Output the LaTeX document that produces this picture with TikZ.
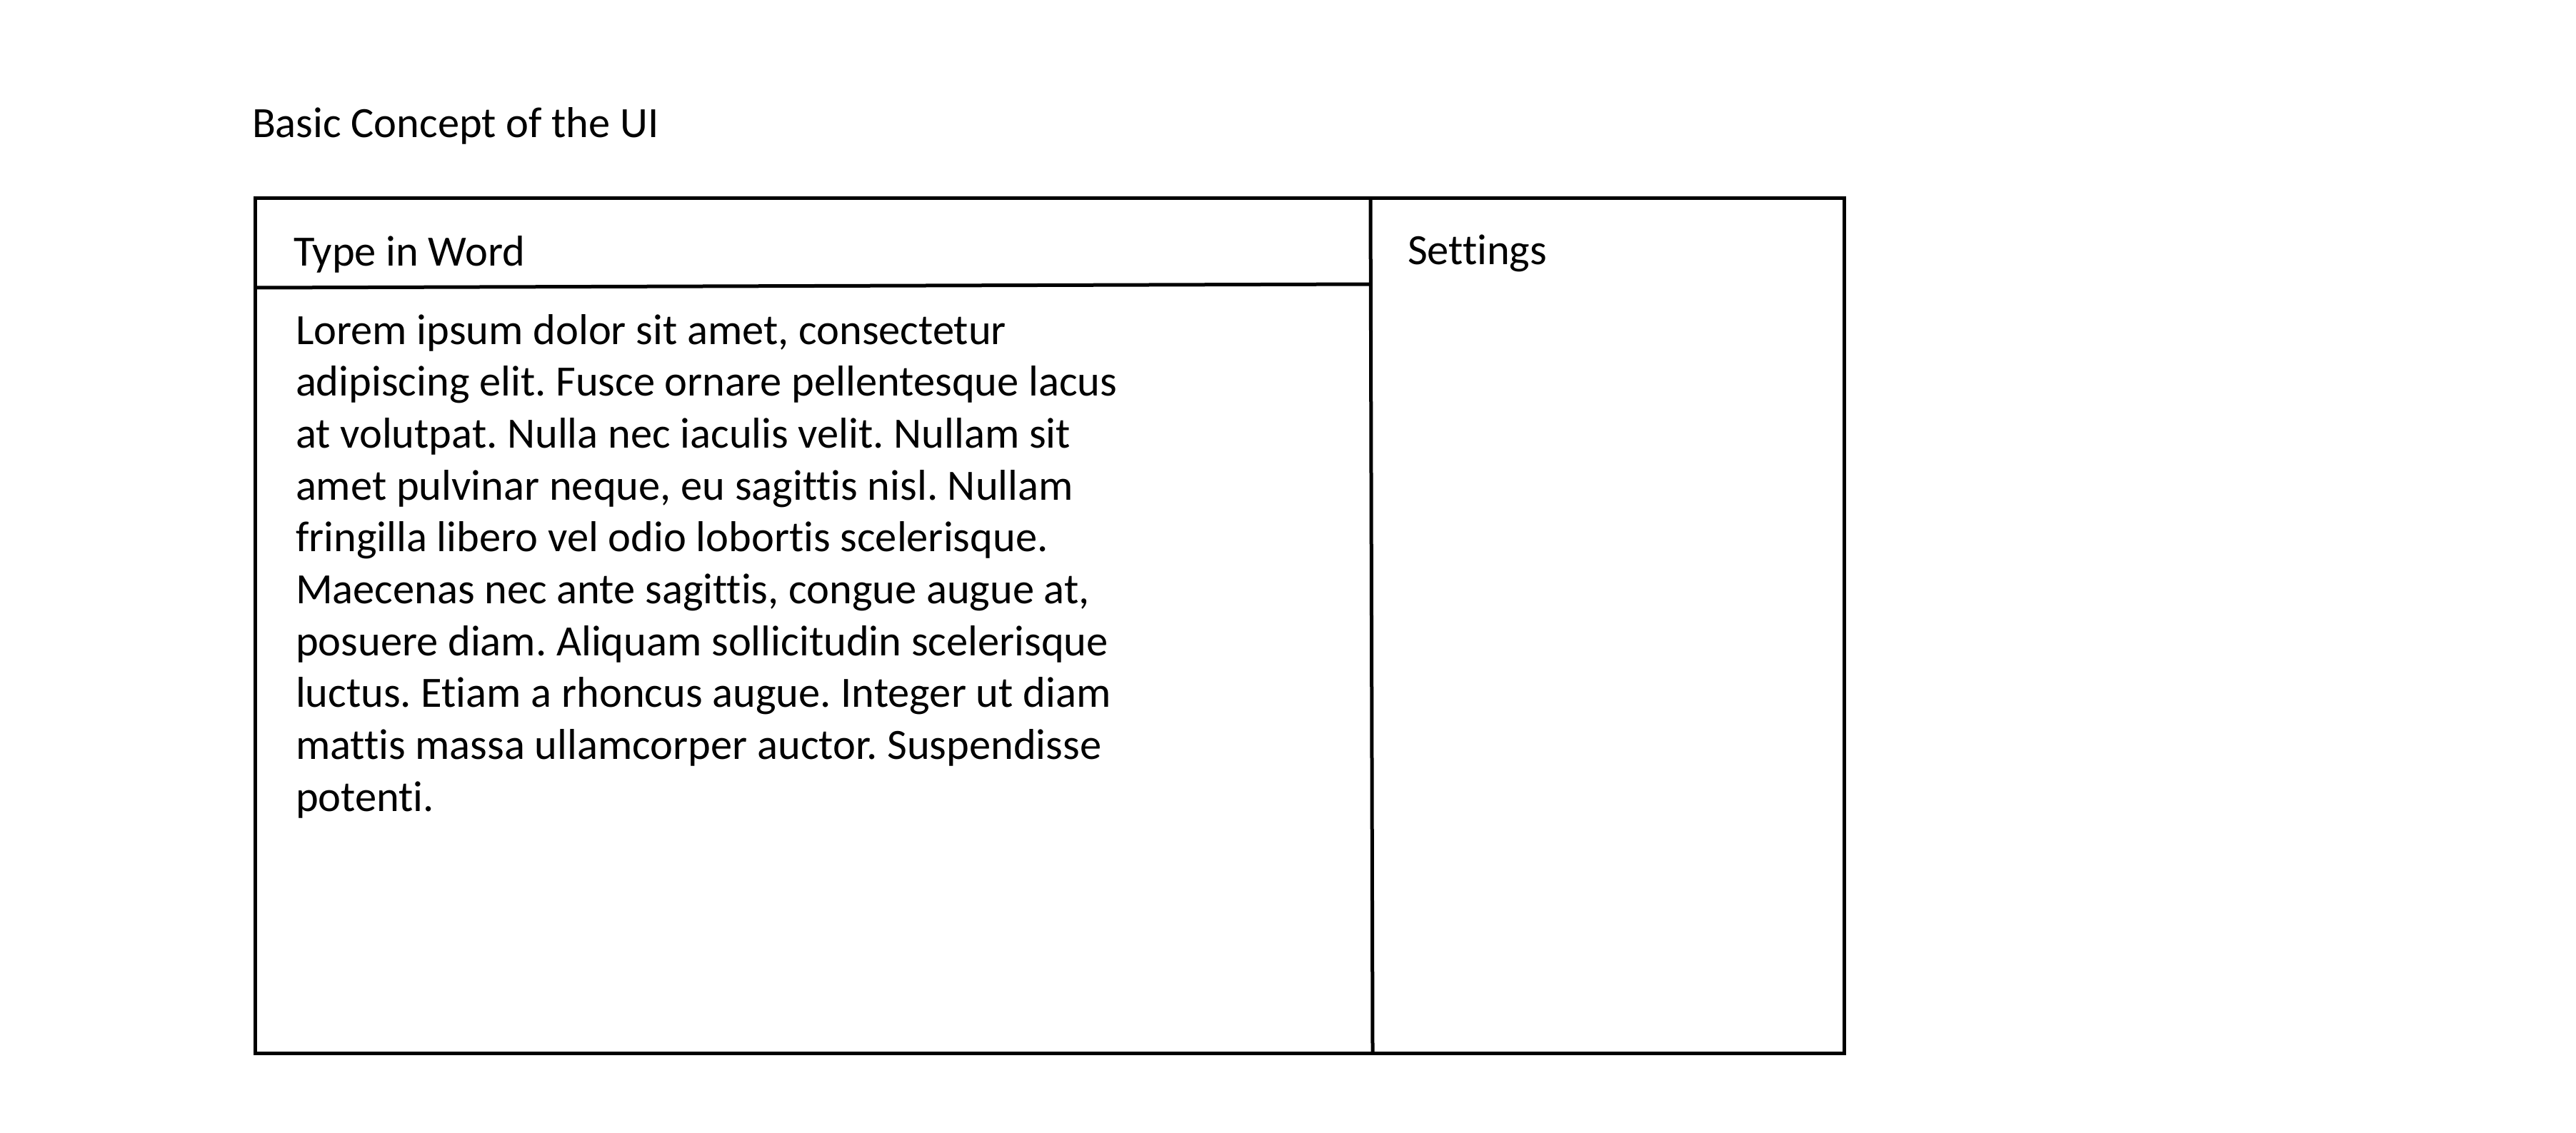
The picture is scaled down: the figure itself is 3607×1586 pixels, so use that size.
\documentclass[tikz,border=0pt]{standalone}
\usepackage{fontspec}
\setmainfont[RawFeature={-liga}]{Carlito}
\begin{document}
\frenchspacing
\begin{tikzpicture}[x=0.2pt,y=-0.2pt,
  txt/.style={inner sep=0pt,anchor=base west,font=\fontsize{12.1}{14.54}\selectfont},
  frame/.style={draw=black,line width=1pt}]
\useasboundingbox (0,0) rectangle (3607,1586);
\node[txt] (title) at (352,192) {Basic Concept of the UI};
\draw[frame] (357,277) rectangle (2582,1475);
\draw[frame] (1919,277) -- (1922,1475);
\draw[frame] (357,403) -- (1919,398);
\node[txt] (type) at (410,372) {Type in Word};
\node[txt] (settings) at (1970,370) {Settings};
\foreach \t [count=\i] in {
  {Lorem ipsum dolor sit amet, consectetur},
  {adipiscing elit. Fusce ornare pellentesque lacus},
  {at volutpat. Nulla nec iaculis velit. Nullam sit},
  {amet pulvinar neque, eu sagittis nisl. Nullam},
  {fringilla libero vel odio lobortis scelerisque.},
  {Maecenas nec ante sagittis, congue augue at,},
  {posuere diam. Aliquam sollicitudin scelerisque},
  {luctus. Etiam a rhoncus augue. Integer ut diam},
  {mattis massa ullamcorper auctor. Suspendisse},
  {potenti.}}
  \node[txt] (body\i) at (413,{482+72.7*(\i-1)}) {\frenchspacing\t};
\end{tikzpicture}
\end{document}
